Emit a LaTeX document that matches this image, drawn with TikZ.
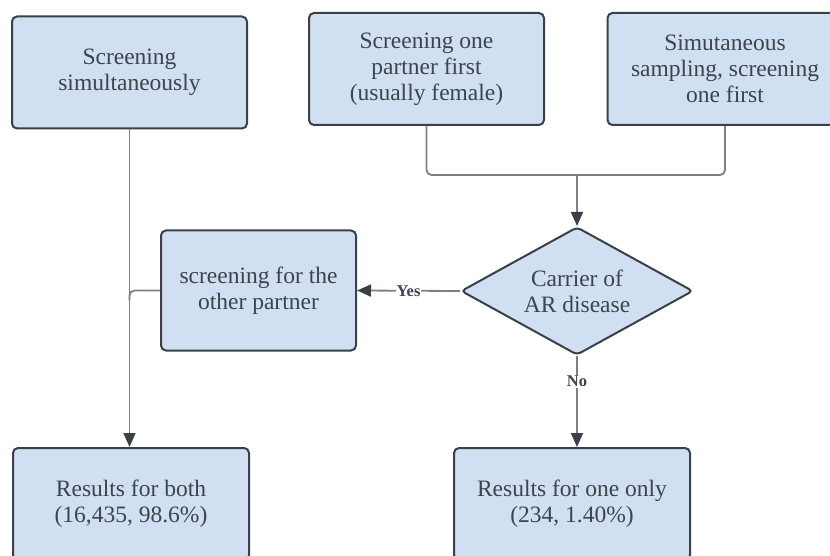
\documentclass[tikz,border=0pt]{standalone}
\usepackage{fontspec}
\setmainfont{Liberation Serif}
\usetikzlibrary{shapes.geometric,arrows.meta}
\definecolor{boxfill}{HTML}{D0DFF1}
\definecolor{boxline}{HTML}{3A4048}
\definecolor{connline}{HTML}{7C8087}
\definecolor{inktext}{HTML}{3E444C}
\begin{document}
\begin{tikzpicture}[x=1pt, y=-1pt,
	box/.style={draw=boxline, fill=boxfill, line width=2pt, rounded corners=5pt,
		align=center, text=inktext, inner sep=0pt,
		font=\fontsize{23.5}{26}\selectfont},
	decision/.style={diamond, draw=boxline, fill=boxfill, line width=2pt,
		rounded corners=4pt, inner sep=0pt, minimum width=232pt, minimum height=128pt},
	plain/.style={align=center, text=inktext, inner sep=0pt,
		font=\fontsize{23.5}{26}\selectfont},
	conn/.style={draw=connline, line width=1.8pt},
	arr/.style={conn, -{Triangle[length=14pt, width=12pt, color=boxline]}},
	answer/.style={fill=white, text=inktext, inner sep=1pt,
		font=\fontsize{16.5}{18}\selectfont\bfseries}]
			\clip (0,0) rectangle (830,556);
			
			%top row
			\node[box, minimum width=235pt, minimum height=112pt] (simul) at (129.5, 72.5) {Screening\\simultaneously};
			\node[box, minimum width=235pt, minimum height=112pt] (onefirst) at (426.5, 69) {Screening one\\partner first\\(usually female)};
			\node[box, minimum width=235pt, minimum height=112pt] (sampling) at (725, 69) {Simutaneous\\sampling, screening\\one first};
			
			%middle row
			\node[decision] (carrier) at (577, 291) {};
			\node[plain] (carriertext) at (carrier) {Carrier of\\AR disease};
			\node[box, minimum width=195pt, minimum height=120pt] (other) at (258.5, 290.5) {screening for the\\other partner};
			
			%results
			\node[box, minimum width=236pt, minimum height=112pt] (both) at (131, 504) {Results for both\\(16,435, 98.6\%)};
			\node[box, minimum width=236pt, minimum height=112pt] (oneonly) at (572, 504) {Results for one only\\(234, 1.40\%)};
			
			%connectors
			\coordinate (merge) at (577, 175);
			\draw[conn, rounded corners=5pt] (onefirst.south) |- (merge) -| (sampling.south);
			\draw[arr] (merge) -- (carrier.north);
			\draw[arr] (carrier.west) -- node[answer]{Yes} (other.east);
			\draw[arr] (carrier.south) -- node[answer, pos=0.28]{No} (carrier.south |- oneonly.north);
			\draw[arr] (simul.south) -- (simul.south |- both.north);
			\draw[conn, rounded corners=5pt] (other.west) -| ([yshift=-10pt]simul.south |- other.west);
		\end{tikzpicture}
\end{document}
